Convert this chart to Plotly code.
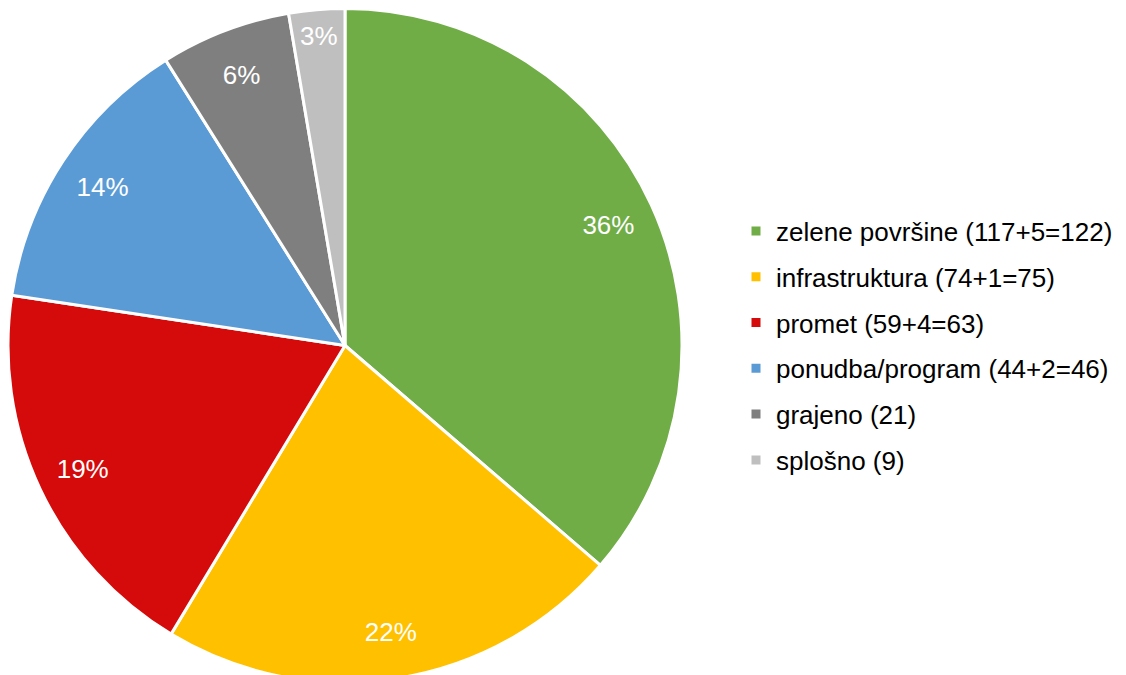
"""Pie chart of proposal categories with a custom-spaced legend."""

import plotly.graph_objects as go

categories = [
    "zelene površine (117+5=122)",
    "infrastruktura (74+1=75)",
    "promet (59+4=63)",
    "ponudba/program (44+2=46)",
    "grajeno (21)",
    "splošno (9)",
]
counts = [122, 75, 63, 46, 21, 9]
colors = ["#70AD47", "#FFC000", "#D50A0A", "#5B9BD5", "#7F7F7F", "#BFBFBF"]

W, H = 1126, 675
FONT = "Liberation Sans, Arial, sans-serif"
PIE_DOMAIN = dict(x=[0, 674 / W], y=[0, 1])

fig = go.Figure()

# the filled slices
fig.add_trace(
    go.Pie(
        labels=categories,
        values=counts,
        sort=False,
        direction="clockwise",
        marker=dict(colors=colors, line=dict(color="white", width=3)),
        textinfo="none",
        showlegend=False,
        hoverinfo="label+value+percent",
        domain=PIE_DOMAIN,
    )
)

# transparent ring on top, only to put the percentages near the rim
fig.add_trace(
    go.Pie(
        labels=categories,
        values=counts,
        sort=False,
        direction="clockwise",
        hole=0.72,
        marker=dict(colors=["rgba(0,0,0,0)"] * len(counts), line=dict(width=0)),
        texttemplate="%{percent:.0%}",
        textposition="inside",
        insidetextorientation="horizontal",
        textfont=dict(color="white", size=26, family=FONT),
        showlegend=False,
        hoverinfo="skip",
        domain=PIE_DOMAIN,
    )
)

# legend entries as separate groups so the row spacing can be set
for i, (name, col) in enumerate(zip(categories, colors)):
    fig.add_trace(
        go.Scatter(
            x=[None], y=[None], mode="markers", name=name,
            marker=dict(symbol="square", size=9, color=col),
            legendgroup=f"g{i}", showlegend=True,
        )
    )

fig.update_layout(
    width=W,
    height=H,
    margin=dict(l=0, r=0, t=0, b=0),
    paper_bgcolor="white",
    plot_bgcolor="white",
    font=dict(family=FONT, size=26, color="black"),
    xaxis=dict(visible=False),
    yaxis=dict(visible=False),
    legend=dict(
        x=728 / W, y=0.5, xanchor="left", yanchor="middle",
        font=dict(size=26, family=FONT, color="black"),
        tracegroupgap=9,
        itemwidth=30,
        bgcolor="rgba(0,0,0,0)",
    ),
)

fig.write_html("out.html")
